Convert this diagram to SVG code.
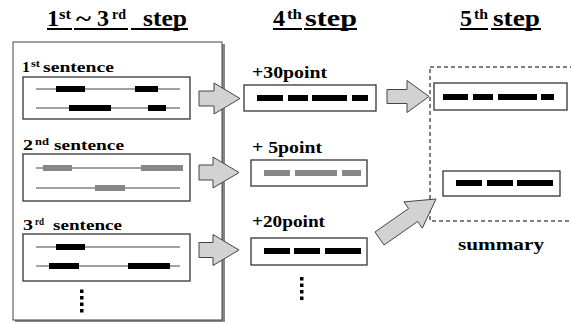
<svg xmlns="http://www.w3.org/2000/svg" width="571" height="322" viewBox="0 0 571 322">
<style>
text{font-family:"Liberation Serif","Times New Roman","DejaVu Serif",serif;font-weight:bold;fill:#000}
.t{font-size:24px}
.tsup{font-size:14px}
.s{font-size:15px}
.ssup{font-size:10px}
.p{font-size:16px}
.ul{stroke:#000;stroke-width:2}
.box{fill:#fff;stroke:#333;stroke-width:1.3}
.ln{stroke:#444;stroke-width:1}
.bk{fill:#000}
.gy{fill:#888}
.arr{fill:#d2d2d2;stroke:#444;stroke-width:1}
.dot{fill:#000}
</style>
<rect width="571" height="322" fill="#fff"/>

<g id="titles">
  <text class="t" x="47" y="26">1</text>
  <text class="tsup" x="59" y="19" textLength="12" lengthAdjust="spacingAndGlyphs">st</text>
  <text class="t" x="76" y="26" textLength="15" lengthAdjust="spacingAndGlyphs">~</text>
  <text class="t" x="97" y="26">3</text>
  <text class="tsup" x="112" y="19" textLength="14" lengthAdjust="spacingAndGlyphs">rd</text>
  <text class="t" x="143" y="26" textLength="44" lengthAdjust="spacingAndGlyphs">step</text>
  <line class="ul" x1="47" y1="29" x2="72" y2="29"/>
  <line class="ul" x1="74" y1="29" x2="128" y2="29"/>
  <line class="ul" x1="131" y1="29" x2="188" y2="29"/>

  <text class="t" x="273" y="26">4</text>
  <text class="tsup" x="287" y="19" textLength="15" lengthAdjust="spacingAndGlyphs">th</text>
  <text class="t" x="305" y="26" textLength="52" lengthAdjust="spacingAndGlyphs">step</text>
  <line class="ul" x1="273" y1="29" x2="302" y2="29"/>
  <line class="ul" x1="304" y1="29" x2="357" y2="29"/>

  <text class="t" x="460" y="26">5</text>
  <text class="tsup" x="474" y="19" textLength="14" lengthAdjust="spacingAndGlyphs">th</text>
  <text class="t" x="493" y="26" textLength="47" lengthAdjust="spacingAndGlyphs">step</text>
  <line class="ul" x1="460" y1="29" x2="488" y2="29"/>
  <line class="ul" x1="491" y1="29" x2="541" y2="29"/>
</g>

<g id="step1to3">
  <rect x="15" y="44" width="210" height="278" fill="#888"/>
  <rect x="13" y="42" width="209" height="278" fill="#fff" stroke="#444" stroke-width="1"/>
</g>

<g id="sentence1">
  <text class="s" x="22" y="72" textLength="8" lengthAdjust="spacingAndGlyphs">1</text>
  <text class="ssup" x="31" y="67" textLength="9" lengthAdjust="spacingAndGlyphs">st</text>
  <text class="s" x="43" y="72" textLength="71" lengthAdjust="spacingAndGlyphs">sentence</text>
  <rect class="box" x="23" y="77" width="167" height="42"/>
  <line class="ln" x1="36" y1="89" x2="180" y2="89"/>
  <rect class="bk" x="56" y="86" width="29" height="6"/>
  <rect class="bk" x="135" y="86" width="23" height="6"/>
  <line class="ln" x1="36" y1="108" x2="180" y2="108"/>
  <rect class="bk" x="69" y="105" width="42" height="6"/>
  <rect class="bk" x="148" y="105" width="18" height="6"/>
</g>

<g id="sentence2">
  <text class="s" x="23" y="150" textLength="10" lengthAdjust="spacingAndGlyphs">2</text>
  <text class="ssup" x="35" y="145" textLength="14" lengthAdjust="spacingAndGlyphs">nd</text>
  <text class="s" x="54" y="150" textLength="70" lengthAdjust="spacingAndGlyphs">sentence</text>
  <rect class="box" x="23" y="154" width="167" height="47"/>
  <line class="ln" x1="36" y1="168" x2="180" y2="168"/>
  <rect class="gy" x="43" y="165" width="29" height="6"/>
  <rect class="gy" x="141" y="165" width="42" height="6"/>
  <line class="ln" x1="36" y1="188" x2="180" y2="188"/>
  <rect class="gy" x="95" y="185" width="30" height="6"/>
</g>

<g id="sentence3">
  <text class="s" x="23" y="230" textLength="10" lengthAdjust="spacingAndGlyphs">3</text>
  <text class="ssup" x="35" y="225" textLength="9" lengthAdjust="spacingAndGlyphs">rd</text>
  <text class="s" x="53" y="230" textLength="69" lengthAdjust="spacingAndGlyphs">sentence</text>
  <rect class="box" x="23" y="234" width="167" height="47"/>
  <line class="ln" x1="36" y1="247" x2="180" y2="247"/>
  <rect class="bk" x="56" y="244" width="29" height="6"/>
  <line class="ln" x1="36" y1="266" x2="180" y2="266"/>
  <rect class="bk" x="49" y="263" width="30" height="6"/>
  <rect class="bk" x="128" y="263" width="42" height="6"/>
  <rect class="dot" x="80" y="289.5" width="3.5" height="3.5"/>
  <rect class="dot" x="80" y="296" width="3.5" height="3.5"/>
  <rect class="dot" x="80" y="302.5" width="3.5" height="3.5"/>
  <rect class="dot" x="80" y="309" width="3.5" height="3.5"/>
</g>

<g id="score30">
  <text class="p" x="252" y="78" textLength="75" lengthAdjust="spacingAndGlyphs">+30point</text>
  <rect class="box" x="244" y="85" width="132" height="26"/>
  <rect class="bk" x="257" y="95" width="26" height="6"/>
  <rect class="bk" x="288" y="95" width="20" height="6"/>
  <rect class="bk" x="312" y="95" width="35" height="6"/>
  <rect class="bk" x="352" y="95" width="16" height="6"/>
</g>

<g id="score5">
  <text class="p" x="252" y="153" textLength="70" lengthAdjust="spacingAndGlyphs">+ 5point</text>
  <rect class="box" x="251" y="160" width="116" height="26"/>
  <rect class="gy" x="264" y="170" width="26" height="6"/>
  <rect class="gy" x="295" y="170" width="42" height="6"/>
  <rect class="gy" x="342" y="170" width="19" height="6"/>
</g>

<g id="score20">
  <text class="p" x="252" y="227" textLength="73" lengthAdjust="spacingAndGlyphs">+20point</text>
  <rect class="box" x="251" y="238" width="116" height="27"/>
  <rect class="bk" x="264" y="248" width="26" height="6"/>
  <rect class="bk" x="294" y="248" width="26" height="6"/>
  <rect class="bk" x="325" y="248" width="36" height="6"/>
  <rect class="dot" x="300" y="277" width="3.5" height="3.5"/>
  <rect class="dot" x="300" y="283.5" width="3.5" height="3.5"/>
  <rect class="dot" x="300" y="290" width="3.5" height="3.5"/>
  <rect class="dot" x="300" y="296.5" width="3.5" height="3.5"/>
</g>

<g id="summary">
  <rect x="430" y="67" width="150" height="154" fill="none" stroke="#000" stroke-width="1" stroke-dasharray="4,3"/>
  <rect class="box" x="434" y="83" width="133" height="27"/>
  <rect class="bk" x="443" y="94" width="25" height="6"/>
  <rect class="bk" x="473" y="94" width="20" height="6"/>
  <rect class="bk" x="498" y="94" width="39" height="6"/>
  <rect class="bk" x="541" y="94" width="13" height="6"/>
  <rect class="box" x="443" y="171" width="117" height="25"/>
  <rect class="bk" x="456" y="180" width="26" height="6"/>
  <rect class="bk" x="487" y="180" width="26" height="6"/>
  <rect class="bk" x="517" y="180" width="36" height="6"/>
  <text class="p" x="458" y="250" textLength="86" lengthAdjust="spacingAndGlyphs">summary</text>
</g>

<g id="connectors">
  <polygon class="arr" points="199,91 214,91 214,83 240,98.5 214,114 214,106 199,106"/>
  <polygon class="arr" points="199,165 213,165 213,157 239,172.5 213,188 213,180 199,180"/>
  <polygon class="arr" points="199,242.5 213,242.5 213,234.5 239,250 213,265.5 213,257.5 199,257.5"/>
  <polygon class="arr" points="387,89.5 407,89.5 407,80.5 429,96.5 407,112.5 407,103.5 387,103.5"/>
  <polygon class="arr" points="375,232 408.6,208.5 403.9,201.9 436,199 422.3,228.1 417.6,221.5 384,245"/>
</g>
</svg>
